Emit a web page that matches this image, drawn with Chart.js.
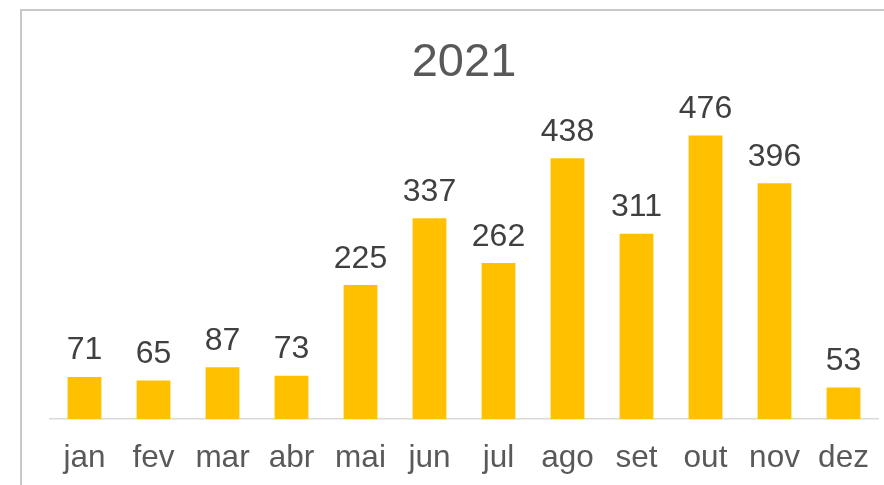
<!DOCTYPE html>
<html>
<head>
<meta charset="utf-8">
<script src="https://cdn.jsdelivr.net/npm/chart.js@4/dist/chart.umd.min.js"></script>
<style>
  html, body { margin: 0; padding: 0; background: #fff; overflow: hidden; }
  #frame {
    position: absolute; left: 20px; top: 9px;
    width: 880px; height: 491px;
    border: 2px solid #c8c8c8; box-sizing: border-box; background: #fff;
  }
  canvas { display: block; }
</style>
</head>
<body>
<div id="frame"><canvas id="chart" width="876" height="487"></canvas></div>
<script>
// chart data
const months = ['jan', 'fev', 'mar', 'abr', 'mai', 'jun', 'jul', 'ago', 'set', 'out', 'nov', 'dez'];
const values = [71, 65, 87, 73, 225, 337, 262, 438, 311, 476, 396, 53];
const chartTitle = '2021';

const FONT = '"Liberation Sans", Arial, sans-serif';

// value labels above each bar
const barLabels = {
  id: 'barLabels',
  afterDatasetsDraw(chart) {
    const ctx = chart.ctx;
    const meta = chart.getDatasetMeta(0);
    ctx.save();
    ctx.font = '32px ' + FONT;
    ctx.fillStyle = '#404040';
    ctx.textAlign = 'center';
    ctx.textBaseline = 'alphabetic';
    meta.data.forEach((bar, i) => {
      ctx.fillText(String(values[i]), bar.x, bar.y - 17.5);
    });
    ctx.restore();
  }
};

new Chart(document.getElementById('chart').getContext('2d'), {
  type: 'bar',
  data: {
    labels: months,
    datasets: [{
      data: values,
      backgroundColor: '#ffc000',
      categoryPercentage: 1,
      barPercentage: 0.49
    }]
  },
  options: {
    responsive: false,
    animation: false,
    layout: { padding: { left: 28, right: 20, top: 0, bottom: 0 } },
    plugins: {
      legend: { display: false },
      tooltip: { enabled: false },
      title: {
        display: true,
        text: chartTitle,
        color: '#595959',
        font: { family: FONT, size: 47, weight: 'normal' },
        padding: { top: 24, bottom: 0 }
      }
    },
    scales: {
      x: {
        grid: { display: false, drawTicks: false },
        border: { display: true, color: '#d9d9d9', width: 1.5 },
        ticks: {
          color: '#595959',
          font: { family: FONT, size: 31.5 },
          padding: 20.5,
          maxRotation: 0
        }
      },
      y: {
        display: false,
        min: 0,
        max: 550
      }
    }
  },
  plugins: [barLabels]
});
</script>
</body>
</html>
